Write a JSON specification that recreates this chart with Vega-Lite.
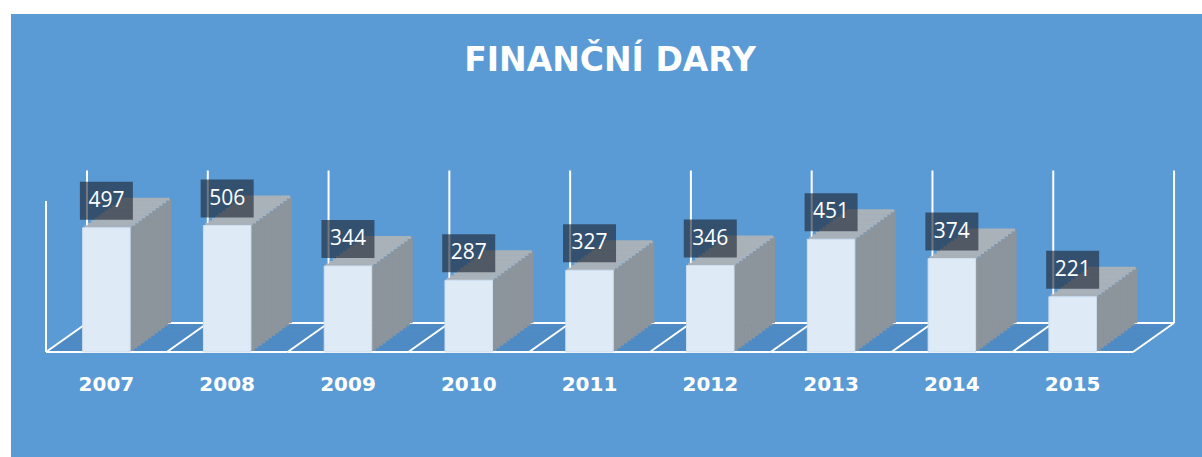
{
  "$schema": "https://vega.github.io/schema/vega-lite/v6.json",
  "width": 1191,
  "height": 443,
  "autosize": {"type": "none"},
  "padding": {"left": 11, "top": 14, "right": 0, "bottom": 0},
  "background": "#FFFFFF",
  "config": {"view": {"fill": "#5B9BD5", "stroke": null}},
  "title": {"text": "FINANČNÍ DARY", "offset": -90, "baseline": "alphabetic", "font": "DejaVu Sans", "fontSize": 33, "fontWeight": "bold", "color": "#FFFFFF", "anchor": "middle", "dx": 3.5},
  "data": {"values": [
    {"year": 2007, "value": 497},
    {"year": 2008, "value": 506},
    {"year": 2009, "value": 344},
    {"year": 2010, "value": 287},
    {"year": 2011, "value": 327},
    {"year": 2012, "value": 346},
    {"year": 2013, "value": 451},
    {"year": 2014, "value": 374},
    {"year": 2015, "value": 221}
  ]},
  "encoding": {
    "x": {"field": "year", "type": "quantitative", "scale": {"domain": [2006.2102, 2016.071], "nice": false, "zero": false}, "axis": null},
    "y": {"field": "value", "type": "quantitative", "scale": {"domain": [-420, 1352], "nice": false, "zero": false}, "axis": null}
  },
  "layer": [
    {
      "encoding": {"x2": {"field": "year"}, "y": {"datum": 0, "type": "quantitative"}, "y2": {"datum": 0}},
      "layer": [
        {"mark": {"type": "rect", "color": "#4E8AC3", "xOffset": -58.68, "x2Offset": 62.6, "yOffset": 0, "y2Offset": -2.417}},
        {"mark": {"type": "rect", "color": "#4E8AC3", "xOffset": -55.265, "x2Offset": 66.015, "yOffset": -2.117, "y2Offset": -4.833}},
        {"mark": {"type": "rect", "color": "#4E8AC3", "xOffset": -51.85, "x2Offset": 69.43, "yOffset": -4.533, "y2Offset": -7.25}},
        {"mark": {"type": "rect", "color": "#4E8AC3", "xOffset": -48.43, "x2Offset": 72.85, "yOffset": -6.95, "y2Offset": -9.667}},
        {"mark": {"type": "rect", "color": "#4E8AC3", "xOffset": -45.015, "x2Offset": 76.265, "yOffset": -9.367, "y2Offset": -12.083}},
        {"mark": {"type": "rect", "color": "#4E8AC3", "xOffset": -41.6, "x2Offset": 79.68, "yOffset": -11.783, "y2Offset": -14.5}},
        {"mark": {"type": "rect", "color": "#4E8AC3", "xOffset": -38.18, "x2Offset": 83.1, "yOffset": -14.2, "y2Offset": -16.917}},
        {"mark": {"type": "rect", "color": "#4E8AC3", "xOffset": -34.765, "x2Offset": 86.515, "yOffset": -16.617, "y2Offset": -19.333}},
        {"mark": {"type": "rect", "color": "#4E8AC3", "xOffset": -31.35, "x2Offset": 89.93, "yOffset": -19.033, "y2Offset": -21.75}},
        {"mark": {"type": "rect", "color": "#4E8AC3", "xOffset": -27.93, "x2Offset": 93.35, "yOffset": -21.45, "y2Offset": -24.167}},
        {"mark": {"type": "rect", "color": "#4E8AC3", "xOffset": -24.515, "x2Offset": 96.765, "yOffset": -23.867, "y2Offset": -26.583}},
        {"mark": {"type": "rect", "color": "#4E8AC3", "xOffset": -21.1, "x2Offset": 100.18, "yOffset": -26.283, "y2Offset": -29}}
      ]
    },
    {"mark": {"type": "rule", "color": "#FFFFFF", "strokeWidth": 2, "xOffset": -60.39, "x2Offset": 60.39}, "encoding": {"x2": {"field": "year"}, "y": {"datum": 0, "type": "quantitative"}, "y2": {"datum": 0}}},
    {"mark": {"type": "rule", "color": "#FFFFFF", "strokeWidth": 2, "xOffset": -19.39, "x2Offset": 101.39, "yOffset": -29, "y2Offset": -29}, "encoding": {"x2": {"field": "year"}, "y": {"datum": 0, "type": "quantitative"}, "y2": {"datum": 0}}},
    {"mark": {"type": "rule", "color": "#FFFFFF", "strokeWidth": 2, "xOffset": -60.39, "x2Offset": -19.39, "y2Offset": -29}, "encoding": {"x2": {"field": "year"}, "y": {"datum": 0, "type": "quantitative"}, "y2": {"datum": 0}}},
    {"mark": {"type": "rule", "color": "#FFFFFF", "strokeWidth": 2, "xOffset": -19.39, "yOffset": -29, "y2Offset": -29}, "encoding": {"y": {"datum": 0, "type": "quantitative"}, "y2": {"datum": 610}}},
    {"transform": [{"filter": "datum.year == 2007"}], "mark": {"type": "rule", "color": "#FFFFFF", "strokeWidth": 2, "xOffset": -60.39}, "encoding": {"y": {"datum": 0, "type": "quantitative"}, "y2": {"datum": 604}}},
    {"transform": [{"filter": "datum.year == 2015"}], "mark": {"type": "rule", "color": "#FFFFFF", "strokeWidth": 2, "xOffset": 60.39, "x2Offset": 101.39, "y2Offset": -29}, "encoding": {"x2": {"field": "year"}, "y": {"datum": 0, "type": "quantitative"}, "y2": {"datum": 0}}},
    {"transform": [{"filter": "datum.year == 2015"}], "mark": {"type": "rule", "color": "#FFFFFF", "strokeWidth": 2, "xOffset": 101.39, "yOffset": -29, "y2Offset": -29}, "encoding": {"y": {"datum": 0, "type": "quantitative"}, "y2": {"datum": 610}}},
    {
      "encoding": {"x2": {"field": "year"}, "y2": {"datum": 0}},
      "layer": [
        {"mark": {"type": "rect", "color": "#8C949C", "xOffset": 23.75, "x2Offset": 27.77, "yOffset": -1.25, "y2Offset": -1.25}},
        {"mark": {"type": "rect", "color": "#8C949C", "xOffset": 27.17, "x2Offset": 31.18, "yOffset": -3.75, "y2Offset": -3.75}},
        {"mark": {"type": "rect", "color": "#8C949C", "xOffset": 30.58, "x2Offset": 34.6, "yOffset": -6.25, "y2Offset": -6.25}},
        {"mark": {"type": "rect", "color": "#8C949C", "xOffset": 34.0, "x2Offset": 38.02, "yOffset": -8.75, "y2Offset": -8.75}},
        {"mark": {"type": "rect", "color": "#8C949C", "xOffset": 37.42, "x2Offset": 41.43, "yOffset": -11.25, "y2Offset": -11.25}},
        {"mark": {"type": "rect", "color": "#8C949C", "xOffset": 40.83, "x2Offset": 44.85, "yOffset": -13.75, "y2Offset": -13.75}},
        {"mark": {"type": "rect", "color": "#8C949C", "xOffset": 44.25, "x2Offset": 48.27, "yOffset": -16.25, "y2Offset": -16.25}},
        {"mark": {"type": "rect", "color": "#8C949C", "xOffset": 47.67, "x2Offset": 51.68, "yOffset": -18.75, "y2Offset": -18.75}},
        {"mark": {"type": "rect", "color": "#8C949C", "xOffset": 51.08, "x2Offset": 55.1, "yOffset": -21.25, "y2Offset": -21.25}},
        {"mark": {"type": "rect", "color": "#8C949C", "xOffset": 54.5, "x2Offset": 58.52, "yOffset": -23.75, "y2Offset": -23.75}},
        {"mark": {"type": "rect", "color": "#8C949C", "xOffset": 57.92, "x2Offset": 61.93, "yOffset": -26.25, "y2Offset": -26.25}},
        {"mark": {"type": "rect", "color": "#8C949C", "xOffset": 61.33, "x2Offset": 64.75, "yOffset": -28.75, "y2Offset": -28.75}}
      ]
    },
    {
      "encoding": {"x2": {"field": "year"}, "y2": {"field": "value"}},
      "layer": [
        {"mark": {"type": "rect", "color": "#A9B1B9", "xOffset": -22.04, "x2Offset": 25.46, "yOffset": 0, "y2Offset": -2.5}},
        {"mark": {"type": "rect", "color": "#A9B1B9", "xOffset": -18.625, "x2Offset": 28.875, "yOffset": -2.1, "y2Offset": -5}},
        {"mark": {"type": "rect", "color": "#A9B1B9", "xOffset": -15.21, "x2Offset": 32.29, "yOffset": -4.6, "y2Offset": -7.5}},
        {"mark": {"type": "rect", "color": "#A9B1B9", "xOffset": -11.79, "x2Offset": 35.71, "yOffset": -7.1, "y2Offset": -10}},
        {"mark": {"type": "rect", "color": "#A9B1B9", "xOffset": -8.375, "x2Offset": 39.125, "yOffset": -9.6, "y2Offset": -12.5}},
        {"mark": {"type": "rect", "color": "#A9B1B9", "xOffset": -4.96, "x2Offset": 42.54, "yOffset": -12.1, "y2Offset": -15}},
        {"mark": {"type": "rect", "color": "#A9B1B9", "xOffset": -1.54, "x2Offset": 45.96, "yOffset": -14.6, "y2Offset": -17.5}},
        {"mark": {"type": "rect", "color": "#A9B1B9", "xOffset": 1.875, "x2Offset": 49.375, "yOffset": -17.1, "y2Offset": -20}},
        {"mark": {"type": "rect", "color": "#A9B1B9", "xOffset": 5.29, "x2Offset": 52.79, "yOffset": -19.6, "y2Offset": -22.5}},
        {"mark": {"type": "rect", "color": "#A9B1B9", "xOffset": 8.71, "x2Offset": 56.21, "yOffset": -22.1, "y2Offset": -25}},
        {"mark": {"type": "rect", "color": "#A9B1B9", "xOffset": 12.125, "x2Offset": 59.625, "yOffset": -24.6, "y2Offset": -27.5}},
        {"mark": {"type": "rect", "color": "#A9B1B9", "xOffset": 15.54, "x2Offset": 63.04, "yOffset": -27.1, "y2Offset": -30}}
      ]
    },
    {"mark": {"type": "rect", "color": "#DEEBF7", "stroke": "#CFDFF0", "strokeWidth": 1, "xOffset": -23.75, "x2Offset": 23.75}, "encoding": {"x2": {"field": "year"}, "y2": {"datum": 0}}},
    {"mark": {"type": "rect", "color": "#1B2430", "opacity": 0.62, "xOffset": -26.5, "x2Offset": 26.5, "yOffset": -46, "y2Offset": -8}, "encoding": {"x2": {"field": "year"}, "y2": {"field": "value"}}},
    {"mark": {"type": "text", "color": "#FFFFFF", "font": "Open Sans", "fontSize": 21, "align": "center", "baseline": "middle", "yOffset": -27}, "encoding": {"text": {"field": "value", "type": "quantitative"}}},
    {"mark": {"type": "text", "color": "#FFFFFF", "font": "DejaVu Sans", "fontSize": 20, "fontWeight": "bold", "align": "center", "baseline": "alphabetic", "yOffset": 38.5}, "encoding": {"y": {"datum": 0, "type": "quantitative"}, "text": {"field": "year", "type": "nominal"}}}
  ]
}
